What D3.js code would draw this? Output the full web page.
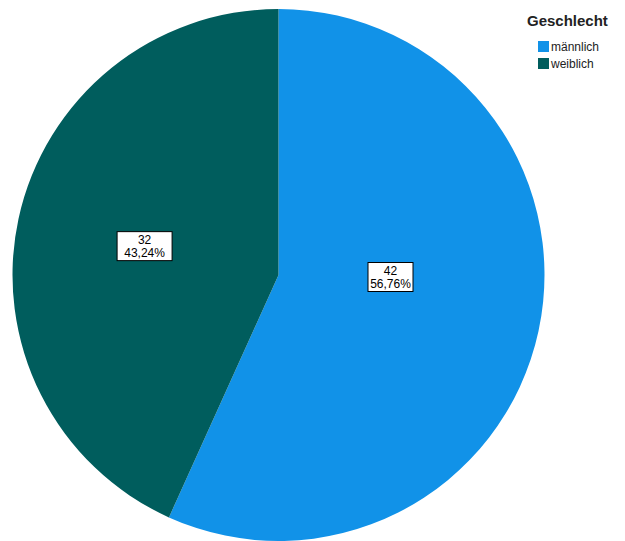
<!DOCTYPE html>
<html><head><meta charset="utf-8">
<script src="https://cdn.jsdelivr.net/npm/d3@7"></script>
<style>body{margin:0;background:#fff}svg{display:block}</style>
</head><body>
<svg id="c" width="625" height="541"></svg>
<script>
const categories = ["männlich", "weiblich"];
const counts = [42, 32];
const percentLabels = ["56,76%", "43,24%"];
const colors = ["#1192e8", "#005d5d"];
const legendTitle = "Geschlecht";

const svg = d3.select("#c");
const cx = 278.5, cy = 275, r = 266;
const data = categories.map((c, i) => ({cat: c, n: counts[i], pct: percentLabels[i], col: colors[i]}));
const pie = d3.pie().value(d => d.n).sort(null);
const arc = d3.arc().innerRadius(0).outerRadius(r);
const g = svg.append("g").attr("transform", `translate(${cx},${cy})`);
const arcs = pie(data);
g.selectAll("path").data(arcs).enter().append("path")
  .attr("d", arc).attr("fill", d => d.data.col);

const labelArc = d3.arc().innerRadius(0).outerRadius(r * 1.03);
arcs.forEach((a, i) => {
  let [x, y] = labelArc.centroid(a);
  if (i === 0) { x = 112; y = 2; }
  const lg = g.append("g").attr("transform", `translate(${x},${y})`);
  const w = i === 0 ? 45 : 55, h = 29;
  lg.append("rect").attr("x", -w/2).attr("y", -h/2).attr("width", w).attr("height", h)
    .attr("fill", "#fff").attr("stroke", "#000").attr("stroke-width", 1);
  lg.append("text").attr("text-anchor", "middle").attr("y", -2)
    .attr("font-family", "Liberation Sans, Arial, sans-serif").attr("font-size", 12).attr("fill", "#000")
    .text(a.data.n);
  lg.append("text").attr("text-anchor", "middle").attr("y", 11)
    .attr("font-family", "Liberation Sans, Arial, sans-serif").attr("font-size", 12).attr("fill", "#000")
    .text(a.data.pct);
});

const leg = svg.append("g");
leg.append("text").attr("x", 527).attr("y", 26)
  .attr("font-family", "Liberation Sans, Arial, sans-serif").attr("font-size", 15).attr("font-weight", "bold")
  .attr("fill", "#222").text(legendTitle);
data.forEach((d, i) => {
  const y = 41 + i * 17;
  leg.append("rect").attr("x", 538).attr("y", y).attr("width", 11).attr("height", 11).attr("fill", d.col);
  leg.append("text").attr("x", 551).attr("y", y + 10)
    .attr("font-family", "Liberation Sans, Arial, sans-serif").attr("font-size", 12).attr("fill", "#222")
    .text(d.cat);
});
</script>
</body></html>
